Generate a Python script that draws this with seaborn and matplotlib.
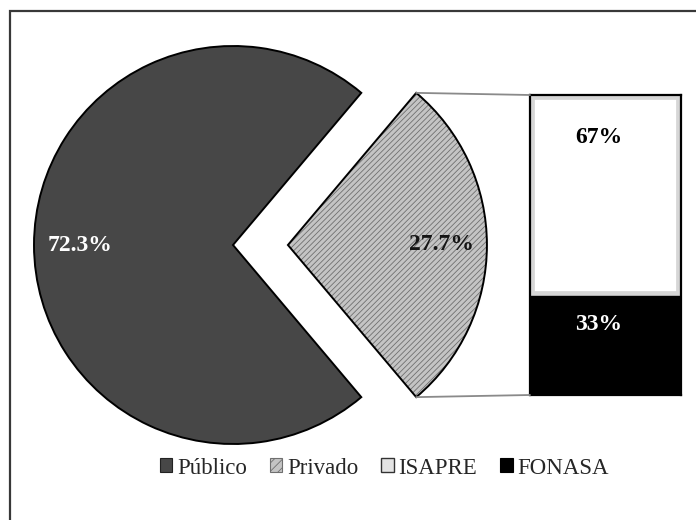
import matplotlib
matplotlib.use("Agg")
import numpy as np
import matplotlib.pyplot as plt
from matplotlib.patches import Patch, Wedge, Rectangle, ConnectionPatch
import seaborn as sns

# --- data -------------------------------------------------------------
sector_labels = ["Público", "Privado"]
sector_share = [72.3, 27.7]
private_labels = ["ISAPRE", "FONASA"]
private_share = [67, 33]

# --- style ------------------------------------------------------------
sns.set_theme(style="white")
plt.rcParams["font.family"] = ["Liberation Serif", "DejaVu Serif"]
plt.rcParams["hatch.linewidth"] = 0.6

c_public = "#474747"
c_private = "#c4c4c4"
c_private_hatch = "#6f6f6f"
c_isapre_edge = "#d6d6d6"
c_fonasa = "#000000"

W, H = 696, 520
fig = plt.figure(figsize=(W / 100, H / 100), dpi=100)
fig.patch.set_facecolor("white")


def px_axes(x0, y0, x1, y1):
    """Axes placed by pixel box (origin top-left)."""
    return fig.add_axes([x0 / W, 1 - y1 / H, (x1 - x0) / W, (y1 - y0) / H])


# --- main pie ---------------------------------------------------------
# the private slice is centred on the horizontal axis, pointing right
pie_cx, pie_cy, pie_r = 233, 245, 199
ax_pie = px_axes(20, 25, 520, 465)
start = 180 * sector_share[1] / sum(sector_share)
wedges, texts, autotexts = ax_pie.pie(
    sector_share,
    startangle=start,
    explode=[0, 0.276],
    colors=[c_public, c_private],
    autopct="%.1f%%",
    pctdistance=0.77,
    wedgeprops=dict(edgecolor="black", linewidth=1.4),
    textprops=dict(fontsize=17, fontweight="bold"),
)
ax_pie.set_xlim((20 - pie_cx) / pie_r, (520 - pie_cx) / pie_r)
ax_pie.set_ylim((pie_cy - 465) / pie_r, (pie_cy - 25) / pie_r)
ax_pie.set_aspect("equal", adjustable="box")
ax_pie.axis("off")
autotexts[0].set_color("white")
autotexts[1].set_color("#151515")

# hatched private slice: hatch in gray, outline redrawn in black
pw = wedges[1]
pw.set_facecolor(c_private)
pw.set_edgecolor(c_private_hatch)
pw.set_linewidth(0)
pw.set_hatch("//////")
ax_pie.add_patch(Wedge(pw.center, pw.r, pw.theta1, pw.theta2,
                       fill=False, edgecolor="black", linewidth=1.4, zorder=3))

# --- stacked bar of the private share ----------------------------------
ax_bar = px_axes(530, 95, 681, 395)
sns.barplot(x=["Privado"], y=[private_share[0]], bottom=[private_share[1]],
            color="white", saturation=1, width=1,
            edgecolor=c_isapre_edge, linewidth=7, ax=ax_bar)
sns.barplot(x=["Privado"], y=[private_share[1]],
            color=c_fonasa, saturation=1, width=1,
            edgecolor=c_fonasa, linewidth=1, ax=ax_bar)
ax_bar.set_xlim(-0.5, 0.5)
ax_bar.set_ylim(0, sum(private_share))
ax_bar.set_xticks([])
ax_bar.set_yticks([])
ax_bar.set_xlabel("")
ax_bar.set_ylabel("")
for s in ax_bar.spines.values():
    s.set_visible(True)
    s.set_color("black")
    s.set_linewidth(1.6)

label_frac = [0.79, 0.71]
bottoms = [private_share[1], 0]
for v, b, f, col in zip(private_share, bottoms, label_frac, ["black", "white"]):
    ax_bar.text(-0.045, b + v * f, f"{v}%", ha="center", va="center",
                fontsize=17, fontweight="bold", color=col)

# --- connector lines -----------------------------------------------------
for ang, ybar in [(pw.theta2, sum(private_share)), (pw.theta1, 0)]:
    a = np.deg2rad(ang)
    p = (pw.center[0] + pw.r * np.cos(a), pw.center[1] + pw.r * np.sin(a))
    con = ConnectionPatch(xyA=p, coordsA=ax_pie.transData,
                          xyB=(-0.5, ybar), coordsB=ax_bar.transData,
                          color="#8a8a8a", linewidth=1.3)
    fig.add_artist(con)

# --- legend -----------------------------------------------------------
handles = [
    Patch(facecolor=c_public, edgecolor="#222222", linewidth=0.8),
    Patch(facecolor=c_private, edgecolor=c_private_hatch, hatch="////", linewidth=0.8),
    Patch(facecolor="#e4e4e4", edgecolor="#333333", linewidth=1.0),
    Patch(facecolor=c_fonasa, edgecolor="black", linewidth=0.8),
]
fig.legend(handles, sector_labels + private_labels, loc="center",
           bbox_to_anchor=(0.552, 0.1), ncol=4, frameon=False,
           prop=dict(size=16.5), handlelength=0.55, handleheight=0.55,
           handletextpad=0.2, columnspacing=1.0)

# --- outer frame --------------------------------------------------------
fig.add_artist(Rectangle((10 / W, -0.1), 1.2, 1 - 11 / H + 0.1,
                         transform=fig.transFigure, fill=False,
                         edgecolor="#383838", linewidth=1.6))

fig.savefig("out.png", dpi=100, facecolor="white")
